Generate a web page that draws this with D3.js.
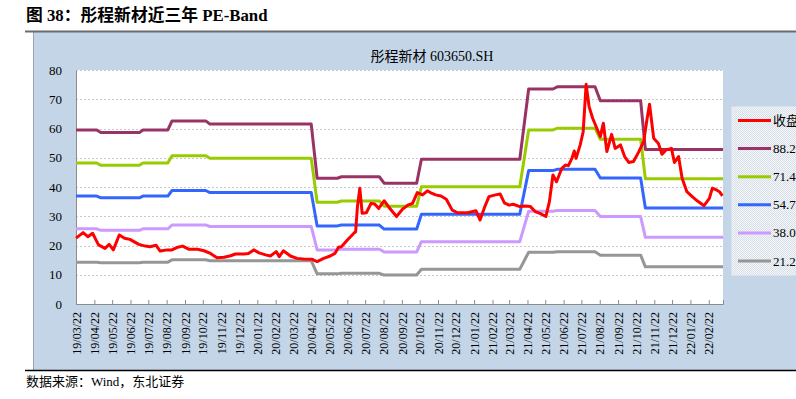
<!DOCTYPE html>
<html>
<head>
<meta charset="utf-8">
<script src="https://cdn.jsdelivr.net/npm/d3@7"></script>
<style>
  body { margin: 0; background: #fff; }
  text { font-family: "Liberation Serif", "Noto Sans CJK SC", serif; }
</style>
</head>
<body>
<svg id="canvas" width="796" height="399"></svg>
<script>
// closing price (weekly-ish reading of the red line)
const priceDates = ["2019-03-22","2019-04-03","2019-04-11","2019-04-19","2019-04-29","2019-05-10","2019-05-17","2019-05-24","2019-06-03","2019-06-12","2019-06-21","2019-07-06","2019-07-17","2019-07-25","2019-08-04","2019-08-11","2019-08-23","2019-08-31","2019-09-08","2019-09-18","2019-09-29","2019-10-13","2019-10-24","2019-11-04","2019-11-15","2019-11-27","2019-12-08","2019-12-16","2019-12-30","2020-01-07","2020-01-16","2020-01-25","2020-02-05","2020-02-13","2020-02-23","2020-02-28","2020-03-06","2020-03-18","2020-03-29","2020-04-09","2020-04-24","2020-04-26","2020-05-02","2020-05-13","2020-05-24","2020-06-01","2020-06-07","2020-06-12","2020-06-22","2020-07-03","2020-07-06","2020-07-09","2020-07-13","2020-07-17","2020-07-24","2020-08-01","2020-08-07","2020-08-14","2020-08-23","2020-08-31","2020-09-13","2020-09-23","2020-10-02","2020-10-10","2020-10-18","2020-10-27","2020-11-04","2020-11-09","2020-11-18","2020-11-27","2020-12-06","2020-12-16","2020-12-25","2021-01-11","2021-01-25","2021-02-01","2021-02-09","2021-02-16","2021-02-27","2021-03-07","2021-03-14","2021-03-22","2021-03-29","2021-04-09","2021-04-18","2021-04-27","2021-05-05","2021-05-13","2021-05-23","2021-05-29","2021-06-04","2021-06-10","2021-06-19","2021-06-25","2021-06-30","2021-07-06","2021-07-10","2021-07-13","2021-07-20","2021-07-25","2021-07-30","2021-08-04","2021-08-10","2021-08-17","2021-08-23","2021-08-28","2021-09-03","2021-09-11","2021-09-17","2021-09-26","2021-10-03","2021-10-10","2021-10-18","2021-10-27","2021-11-04","2021-11-10","2021-11-14","2021-11-21","2021-11-29","2021-12-05","2021-12-12","2021-12-21","2021-12-26","2022-01-02","2022-01-08","2022-01-16","2022-01-25","2022-02-03","2022-02-14","2022-02-23","2022-02-28","2022-03-07","2022-03-12","2022-03-17"];
const priceValues = [22.5,24.4,23.0,24.2,20.2,19.0,20.4,18.5,23.6,22.5,22.1,20.4,19.8,19.6,20.1,18.1,18.5,18.5,19.3,19.8,18.7,18.7,18.2,17.3,15.8,16.0,16.5,17.1,17.1,17.3,18.5,17.5,16.8,16.4,17.9,16.2,18.2,16.4,15.6,15.4,15.3,15.0,14.5,15.6,16.4,17.3,19.4,19.6,21.9,24.2,24.7,33.3,39.6,31.0,31.2,34.4,34.2,32.7,35.3,33.1,29.9,32.4,33.8,34.4,38.1,37.3,38.7,38.1,37.3,36.9,35.8,32.1,31.2,31.2,31.9,28.7,33.3,36.7,37.3,37.6,34.6,33.8,34.1,33.3,33.5,33.3,31.6,31.0,29.9,35.0,44.1,41.8,46.4,47.5,47.3,49.8,52.3,49.8,54.4,58.9,75.1,67.5,63.5,60.1,57.2,61.8,52.1,58.0,53.2,54.4,50.4,48.4,48.7,52.1,55.5,63.5,68.3,56.7,54.9,51.2,52.7,53.2,48.4,50.4,43.0,38.4,36.7,35.2,33.6,36.1,39.6,39.0,38.4,37.0];

// PE band levels: each band holds a level, then ramps between stepFrom[i] and stepTo[i]
const bandStart = "2019-03-22";
const bandEnd = "2022-03-18";
const stepFrom = ["2019-04-26","2019-07-07","2019-08-24","2019-10-27","2020-04-22","2020-06-05","2020-08-15","2020-10-17","2021-04-09","2021-06-04","2021-08-14","2021-10-30"];
const stepTo   = ["2019-05-03","2019-07-13","2019-08-31","2019-11-03","2020-05-02","2020-06-12","2020-08-23","2020-10-25","2021-04-24","2021-06-12","2021-08-23","2021-11-07"];
const band882 = [59.5,58.6,59.5,62.6,61.5,43.0,43.5,41.3,49.5,73.5,74.3,69.5,52.8];
const band714 = [48.2,47.4,48.2,50.7,49.8,34.8,35.2,33.4,40.1,59.5,60.1,56.3,42.8];
const band547 = [36.9,36.3,36.9,38.8,38.1,26.7,27.0,25.6,30.7,45.6,46.1,43.1,32.8];
const band380 = [25.7,25.2,25.7,27.0,26.5,18.5,18.7,17.8,21.3,31.7,32.0,29.9,22.8];
const band212 = [14.3,14.1,14.3,15.1,14.8,10.3,10.5,9.9,11.9,17.7,17.9,16.7,12.7];

const seriesNames = ["收盘价","88.2x","71.4x","54.7x","38.0x","21.2x"];
const seriesColors = ["#ff0000","#993366","#99cc00","#3366ff","#cc99ff","#969696"];
const yTicks = [0,10,20,30,40,50,60,70,80];

let parse = d3.timeParse("%Y-%m-%d");
let svg = d3.select("#canvas");

// page furniture
svg.append("rect").attr("width", 796).attr("height", 399).attr("fill", "#fff");
svg.append("text")
    .attr("x", 26).attr("y", 21)
    .style("font-size", "16.8px").style("font-weight", "bold")
    .text("图 38：彤程新材近三年 PE-Band");
svg.append("rect")
    .attr("x", 33).attr("y", 32).attr("width", 770).attr("height", 338)
    .attr("fill", "#c4d5e8");
svg.append("line").attr("x1", 33.5).attr("x2", 33.5).attr("y1", 32).attr("y2", 370)
    .attr("stroke", "#9aa3ad").attr("stroke-width", 1);
svg.append("line").attr("x1", 25).attr("x2", 796).attr("y1", 31.5).attr("y2", 31.5)
    .attr("stroke", "#6b6b6b").attr("stroke-width", 2);
svg.append("line").attr("x1", 25).attr("x2", 796).attr("y1", 370.5).attr("y2", 370.5)
    .attr("stroke", "#000").attr("stroke-width", 1.5);
svg.append("text")
    .attr("x", 26).attr("y", 386)
    .style("font-size", "13px")
    .text("数据来源：Wind，东北证券");

// chart title
svg.append("text")
    .attr("x", 432).attr("y", 61)
    .attr("text-anchor", "middle")
    .style("font-size", "14px")
    .text("彤程新材 603650.SH");

// scales
let x = d3.scaleTime()
    .domain([parse(bandStart), parse(bandEnd)])
    .range([76, 723]);
let y = d3.scaleLinear()
    .domain([0, 80])
    .range([304, 70]);

// plot area
svg.append("rect")
    .attr("x", 76).attr("y", 70).attr("width", 647).attr("height", 234)
    .attr("fill", "#fff");

// gridlines
svg.append("g").selectAll("line")
    .data(yTicks.filter(d => d > 0))
    .join("line")
    .attr("x1", 76).attr("x2", 723)
    .attr("y1", d => Math.round(y(d)) + 0.5).attr("y2", d => Math.round(y(d)) + 0.5)
    .attr("stroke", "#c8c8c8")
    .attr("stroke-dasharray", "2,2");

// y axis
let yAxis = svg.append("g")
    .attr("transform", "translate(76,0)")
    .call(d3.axisLeft(y).tickValues(yTicks).tickSize(0).tickPadding(14));
yAxis.select(".domain").attr("stroke", "#8c8c8c");
yAxis.selectAll("text")
    .style("font-size", "13px")
    .style("font-family", "'Liberation Serif', serif")
    .attr("fill", "#000");

// x axis (ticks on the 22nd of every month)
let tickDates = d3.timeMonth.range(new Date(2019, 2, 1), new Date(2022, 2, 1))
    .map(d => new Date(d.getFullYear(), d.getMonth(), 22));
let xAxis = svg.append("g")
    .attr("transform", "translate(0,304)")
    .call(d3.axisBottom(x).tickValues(tickDates).tickSize(-4).tickFormat(d3.timeFormat("%y/%m/%d")));
xAxis.select(".domain").attr("stroke", "#8c8c8c");
xAxis.selectAll(".tick line").attr("stroke", "#8c8c8c");
xAxis.selectAll("text")
    .attr("transform", "rotate(-90)")
    .attr("x", -8).attr("y", 0).attr("dy", "0.35em")
    .attr("text-anchor", "end")
    .style("font-size", "12px")
    .style("font-family", "'Liberation Serif', serif")
    .attr("fill", "#000");

// builds a stepped band from its levels
function bandPoints(levels) {
    let pts = [[parse(bandStart), levels[0]]];
    stepFrom.forEach((d, i) => {
        pts.push([parse(d), levels[i]]);
        pts.push([parse(stepTo[i]), levels[i + 1]]);
    });
    pts.push([parse(bandEnd), levels[levels.length - 1]]);
    return pts;
}

let pricePoints = priceDates.map((d, i) => [parse(d), priceValues[i]]);
let allSeries = [pricePoints, bandPoints(band882), bandPoints(band714),
    bandPoints(band547), bandPoints(band380), bandPoints(band212)];

let line = d3.line()
    .x(d => x(d[0]))
    .y(d => y(d[1]));

// draw bands first, price on top
let order = [5, 4, 3, 2, 1, 0];
svg.append("g").selectAll("path")
    .data(order)
    .join("path")
    .attr("d", i => line(allSeries[i]))
    .attr("fill", "none")
    .attr("stroke", i => seriesColors[i])
    .attr("stroke-width", 3)
    .attr("stroke-linejoin", "round");

// legend
let defs = svg.append("defs");
let pat = defs.append("pattern")
    .attr("id", "dots").attr("width", 2).attr("height", 2)
    .attr("patternUnits", "userSpaceOnUse");
pat.append("rect").attr("width", 2).attr("height", 2).attr("fill", "#f4f6f9");
pat.append("rect").attr("width", 1).attr("height", 1).attr("fill", "#d6dee8");
pat.append("rect").attr("x", 1).attr("y", 1).attr("width", 1).attr("height", 1).attr("fill", "#d6dee8");

svg.append("rect")
    .attr("x", 732).attr("y", 107).attr("width", 80).attr("height", 168)
    .attr("fill", "url(#dots)")
    .attr("stroke", "#e9eef4");

let legend = svg.append("g").selectAll("g")
    .data(seriesNames)
    .join("g")
    .attr("transform", (d, i) => "translate(738," + (120.5 + i * 28.1) + ")");
legend.append("line")
    .attr("x1", 0).attr("x2", 33)
    .attr("stroke", (d, i) => seriesColors[i])
    .attr("stroke-width", 3);
legend.append("text")
    .attr("x", 35).attr("y", 4.5)
    .style("font-size", "13px")
    .text(d => d);
</script>
</body>
</html>
